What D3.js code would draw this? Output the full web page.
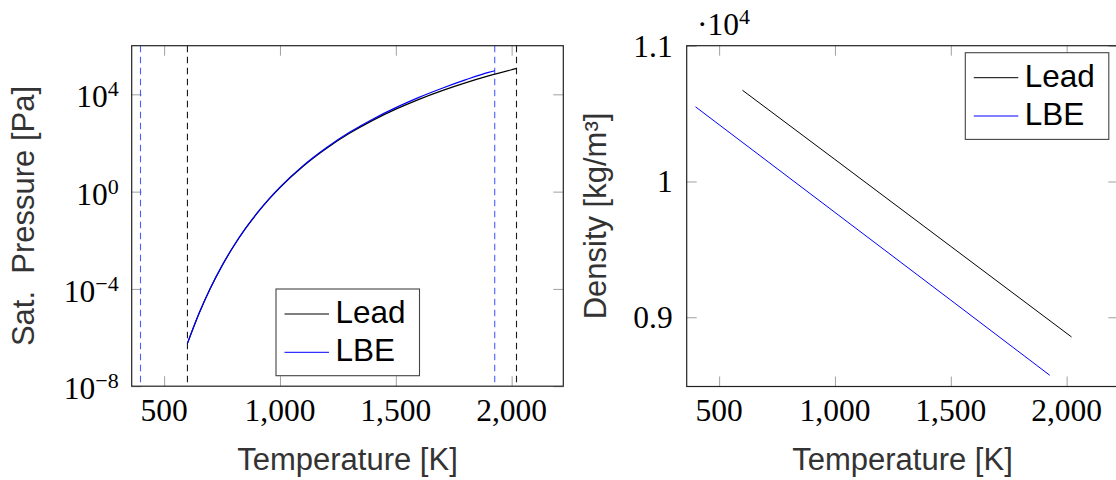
<!DOCTYPE html>
<html>
<head>
<meta charset="utf-8">
<script src="https://cdn.jsdelivr.net/npm/d3@7/dist/d3.min.js"></script>
<style>
  html, body { margin: 0; padding: 0; background: #fff; }
  svg { display: block; }
</style>
</head>
<body>
<svg id="chart" width="1116" height="480"></svg>
<script>
// ---------------- DATA ----------------
// Saturation pressure [Pa] vs temperature [K]
const tempLead = [600.6, 650, 700, 750, 800, 850, 900, 950, 1000, 1100, 1200, 1300, 1400, 1500, 1600, 1700, 1800, 1900, 2000, 2021];
const pressLead = [5.75e-7, 9.44e-6, 1.08e-4, 8.93e-4, 5.68e-3, 2.91e-2, 0.124, 0.455, 1.47, 11.1, 59.7, 249, 849, 2460, 6240, 14200, 29600, 57100, 103000, 116000];
const tempLBE = [600.6, 650, 700, 750, 800, 850, 900, 950, 1000, 1100, 1200, 1300, 1400, 1500, 1600, 1700, 1800, 1900, 1927];
const pressLBE = [5.75e-7, 9.51e-6, 1.09e-4, 9.10e-4, 5.81e-3, 2.99e-2, 0.128, 0.473, 1.53, 11.7, 64.0, 274, 953, 2840, 7500, 17800, 39100, 79800, 93000];

// Density [kg/m^3] vs temperature [K]
const densTempLead = [600.6, 1000, 1500, 2021];
const densLead = [10672, 10162, 9522, 8855];
const densTempLBE = [398, 1000, 1500, 1927];
const densLBE = [10550, 9772, 9126, 8573];

// Melting / boiling temperatures (dashed markers)
const limitTemps = [398, 600.6, 1927, 2021];
const limitSeries = ["LBE", "Lead", "LBE", "Lead"];

// Legend
const seriesNames = ["Lead", "LBE"];

// Ticks
const xTicks = [500, 1000, 1500, 2000];
const xTickLabels = ["500", "1,000", "1,500", "2,000"];
const pTicks = [1e-8, 1e-4, 1e0, 1e4];
const pTickExps = ["\u22128", "\u22124", "0", "4"];
const densTicks = [9000, 10000, 11000];
const densTickLabels = ["0.9", "1", "1.1"];

// Axis labels
const xLabel = "Temperature [K]";
const yLabelLeft = "Sat.\u00a0 Pressure [Pa]";
const yLabelRight = "Density [kg/m\u00b3]";
const densMultiplier = ["\u00b710", "4"];

// ---------------- STYLE ----------------
const colors = { Lead: "#000000", LBE: "#0000ff" };
const dashColors = { Lead: "#1a1a1a", LBE: "#4a5cff" };
const SANS = "'Liberation Sans', Arial, Helvetica, sans-serif";
const SERIF = "'Liberation Serif', 'Times New Roman', Times, serif";
const TICK_FS = 31.5, SUP_FS = 22;

const svg = d3.select("#chart");

function panel(opts) {
  const { left, right, top, bottom } = opts;
  const g = svg.append("g");
  const x = d3.scaleLinear().domain([360, 2223]).range([left, right]);
  const y = opts.yScale.range([bottom, top]);

  const tickStyle = sel => {
    sel.select(".domain").remove();
    sel.selectAll(".tick line").attr("stroke", "#a0a0a0").attr("stroke-width", 1);
    sel.selectAll(".tick text").remove();
  };
  g.append("g").attr("transform", `translate(0,${bottom})`)
    .call(d3.axisBottom(x).tickValues(xTicks).tickSize(-10).tickFormat("")).call(tickStyle);
  g.append("g").attr("transform", `translate(0,${top})`)
    .call(d3.axisTop(x).tickValues(xTicks).tickSize(-10).tickFormat("")).call(tickStyle);
  g.append("g").attr("transform", `translate(${left},0)`)
    .call(d3.axisLeft(y).tickValues(opts.yTicks).tickSize(-10).tickFormat("")).call(tickStyle);
  g.append("g").attr("transform", `translate(${right},0)`)
    .call(d3.axisRight(y).tickValues(opts.yTicks).tickSize(-10).tickFormat("")).call(tickStyle);

  g.append("g").selectAll("text").data(xTicks).join("text")
    .attr("x", d => x(d)).attr("y", bottom + 34.5)
    .attr("text-anchor", "middle")
    .attr("font-family", SERIF).attr("font-size", TICK_FS).attr("fill", "#000")
    .text((d, i) => xTickLabels[i]);

  g.append("text")
    .attr("x", (left + right) / 2).attr("y", 469.5)
    .attr("text-anchor", "middle")
    .attr("font-family", SANS).attr("font-size", 31).attr("fill", "#333")
    .text(xLabel);

  return { g, x, y };
}

// ---------------- LEFT: saturation pressure ----------------
const L = panel({
  left: 131.7, right: 563.3, top: 45.7, bottom: 386.2,
  yScale: d3.scaleLog().domain([1e-8, 1e6]),
  yTicks: pTicks
});

L.g.append("g").selectAll("line").data(limitTemps).join("line")
  .attr("x1", d => L.x(d)).attr("x2", d => L.x(d))
  .attr("y1", 45.7).attr("y2", 386.2)
  .attr("stroke", (d, i) => dashColors[limitSeries[i]])
  .attr("stroke-width", 1.1)
  .attr("stroke-dasharray", "6.5,4.5");

const lineP = d3.line().x(d => L.x(d[0])).y(d => L.y(d[1])).curve(d3.curveMonotoneX);
L.g.append("path").datum(d3.zip(tempLead, pressLead))
  .attr("d", lineP).attr("fill", "none").attr("stroke", colors.Lead).attr("stroke-width", 1.2);
L.g.append("path").datum(d3.zip(tempLBE, pressLBE))
  .attr("d", lineP).attr("fill", "none").attr("stroke", colors.LBE).attr("stroke-width", 1.2);

const pLab = L.g.append("g").selectAll("text").data(pTicks).join("text")
  .attr("x", 131.7 - 13).attr("y", d => L.y(d) + 13)
  .attr("text-anchor", "end")
  .attr("font-family", SERIF).attr("font-size", TICK_FS).attr("fill", "#000");
pLab.append("tspan").text("10");
pLab.append("tspan").attr("dy", -11).attr("font-size", SUP_FS).text((d, i) => pTickExps[i]);

L.g.append("text")
  .attr("transform", `translate(34.3,216) rotate(-90)`)
  .attr("text-anchor", "middle")
  .attr("font-family", SANS).attr("font-size", 31).attr("fill", "#333")
  .style("white-space", "pre")
  .text(yLabelLeft);

L.g.append("rect").attr("x", 131.7).attr("y", 45.7).attr("width", 563.3 - 131.7).attr("height", 386.2 - 45.7)
  .attr("fill", "none").attr("stroke", "#222").attr("stroke-width", 1.2);

// ---------------- RIGHT: density ----------------
const R = panel({
  left: 686.7, right: 1118.3, top: 45.7, bottom: 386.5,
  yScale: d3.scaleLinear().domain([8490, 11000]),
  yTicks: densTicks
});

const lineD = d3.line().x(d => R.x(d[0])).y(d => R.y(d[1]));
R.g.append("path").datum(d3.zip(densTempLead, densLead))
  .attr("d", lineD).attr("fill", "none").attr("stroke", colors.Lead).attr("stroke-width", 1);
R.g.append("path").datum(d3.zip(densTempLBE, densLBE))
  .attr("d", lineD).attr("fill", "none").attr("stroke", colors.LBE).attr("stroke-width", 1);

R.g.append("g").selectAll("text").data(densTicks).join("text")
  .attr("x", 686.7 - 14).attr("y", d => R.y(d) + 11)
  .attr("text-anchor", "end")
  .attr("font-family", SERIF).attr("font-size", TICK_FS).attr("fill", "#000")
  .text((d, i) => densTickLabels[i]);

const mult = R.g.append("text")
  .attr("x", 697).attr("y", 34.5)
  .attr("font-family", SERIF).attr("font-size", TICK_FS).attr("fill", "#000");
mult.append("tspan").text(densMultiplier[0]);
mult.append("tspan").attr("dy", -11).attr("font-size", SUP_FS).text(densMultiplier[1]);

R.g.append("text")
  .attr("transform", `translate(606,216) rotate(-90)`)
  .attr("text-anchor", "middle")
  .attr("font-family", SANS).attr("font-size", 31).attr("fill", "#333")
  .text(yLabelRight);

R.g.append("rect").attr("x", 686.7).attr("y", 45.7).attr("width", 1118.3 - 686.7).attr("height", 386.5 - 45.7)
  .attr("fill", "none").attr("stroke", "#222").attr("stroke-width", 1.2);

// ---------------- LEGENDS ----------------
function legend(bx, by) {
  const g = svg.append("g").attr("transform", `translate(${bx},${by})`);
  g.append("rect").attr("x", 0).attr("y", 0).attr("width", 143.5).attr("height", 86.7)
    .attr("fill", "#fff").attr("stroke", "#444").attr("stroke-width", 1.1);
  const item = g.selectAll("g.item").data(seriesNames).join("g")
    .attr("class", "item")
    .attr("transform", (d, i) => `translate(0,${24.5 + i * 38.3})`);
  item.append("line").attr("x1", 8.5).attr("x2", 53).attr("y1", 0.5).attr("y2", 0.5)
    .attr("stroke", d => colors[d]).attr("stroke-width", 1);
  item.append("text").attr("x", 59.5).attr("y", 9.5)
    .attr("font-family", SANS).attr("font-size", 31.5).attr("fill", "#000")
    .text(d => d);
}
legend(276, 289);
legend(965.3, 52.7);
</script>
</body>
</html>
